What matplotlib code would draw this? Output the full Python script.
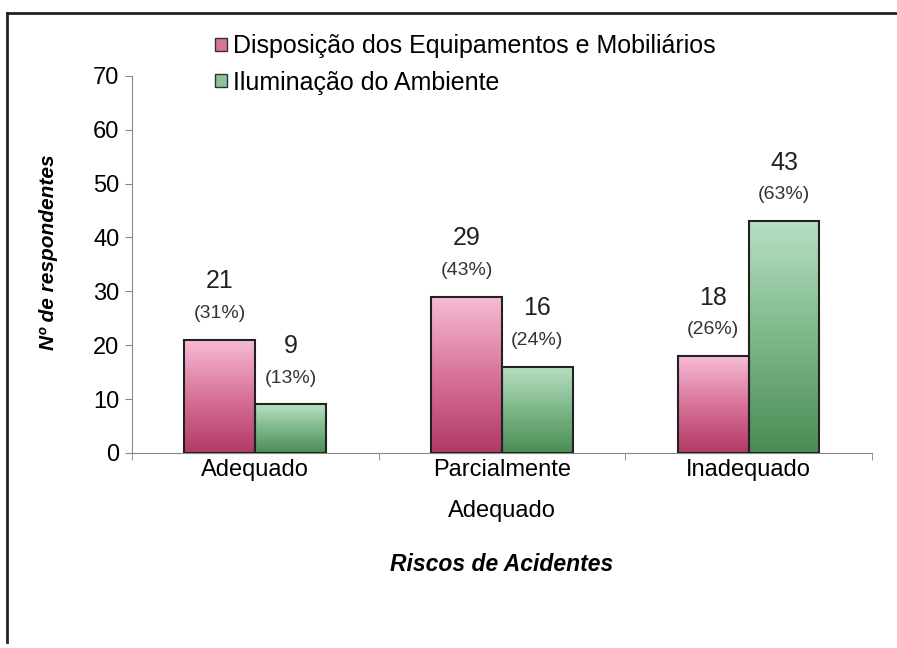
import numpy as np
import matplotlib.pyplot as plt
from matplotlib.colors import LinearSegmentedColormap
from matplotlib.patches import Patch
from matplotlib.lines import Line2D

plt.rcParams['font.family'] = ['Liberation Sans', 'DejaVu Sans']

categories = ['Adequado', 'Parcialmente\nAdequado', 'Inadequado']
disposicao = [21, 29, 18]
iluminacao = [9, 16, 43]
disposicao_pct = ['(31%)', '(43%)', '(26%)']
iluminacao_pct = ['(13%)', '(24%)', '(63%)']
series_names = ['Disposição dos Equipamentos e Mobiliários', 'Iluminação do Ambiente']

pink = LinearSegmentedColormap.from_list('pink', ['#b03a66', '#d9739a', '#f6bcd6'])
green = LinearSegmentedColormap.from_list('green', ['#4a8c55', '#7db889', '#b8dfc3'])

fig = plt.figure(figsize=(8.97, 6.48), dpi=100)
ax = fig.add_axes([0.147, 0.301, 0.825, 0.582])

x = np.arange(len(categories))
w = 0.287

def gradient_bars(xs, vals, cmap):
    bars = ax.bar(xs, vals, w, facecolor='none', edgecolor='#222222', linewidth=1.5, zorder=3)
    grad = np.linspace(0, 1, 256).reshape(-1, 1)
    for b in bars:
        x0, y0 = b.get_x(), b.get_y()
        im = ax.imshow(grad, cmap=cmap, origin='lower', aspect='auto',
                       extent=[x0, x0 + b.get_width(), y0, y0 + b.get_height()], zorder=2)
        im.set_clip_path(b)
    return bars

b1 = gradient_bars(x - w / 2, disposicao, pink)
b2 = gradient_bars(x + w / 2, iluminacao, green)

for bars, vals, pcts in [(b1, disposicao, disposicao_pct), (b2, iluminacao, iluminacao_pct)]:
    for b, v, p in zip(bars, vals, pcts):
        cx = b.get_x() + b.get_width() / 2
        ax.annotate(str(v), (cx, v), xytext=(0, 42), textcoords='offset points',
                    ha='center', va='center', fontsize=18, color='#222222')
        ax.annotate(p, (cx, v), xytext=(0, 19), textcoords='offset points',
                    ha='center', va='center', fontsize=14, color='#333333')

ax.set_xlim(-0.5, 2.5)
ax.set_ylim(0, 70)
ax.set_yticks(range(0, 71, 10))
ax.set_xticks(x)
ax.set_xticklabels(categories, fontsize=17, linespacing=2.15)
ax.set_xticks([-0.5, 0.5, 1.5, 2.5], minor=True)
ax.tick_params(axis='x', which='major', length=0, pad=4)
ax.tick_params(axis='x', which='minor', length=5, color='#888888')
ax.tick_params(axis='y', labelsize=17, length=5, color='#888888', pad=4)
for s in ['top', 'right']:
    ax.spines[s].set_visible(False)
for s in ['left', 'bottom']:
    ax.spines[s].set_color('#888888')

ax.set_ylabel('Nº de respondentes', fontsize=15, fontstyle='italic', fontweight='bold')
ax.yaxis.set_label_coords(-0.10, 0.533)
ax.set_xlabel('Riscos de Acidentes', fontsize=16.5, fontstyle='italic', fontweight='bold', labelpad=22)
ax.patch.set_alpha(0)

handles = [Patch(facecolor='#d9739a', edgecolor='#333333'),
           Patch(facecolor='#8fc49a', edgecolor='#333333')]
fig.legend(handles, series_names, loc='upper left', bbox_to_anchor=(0.215, 0.982),
           frameon=False, fontsize=18, handlelength=0.45, handleheight=0.45,
           handletextpad=0.25, labelspacing=0.5)

# page frame
fig.add_artist(Line2D([0.008, 1.0], [0.98, 0.98], transform=fig.transFigure, color='#222222', lw=2))
fig.add_artist(Line2D([0.008, 0.008], [0.98, 0.01], transform=fig.transFigure, color='#222222', lw=2))

fig.savefig('out.png', dpi=100)
